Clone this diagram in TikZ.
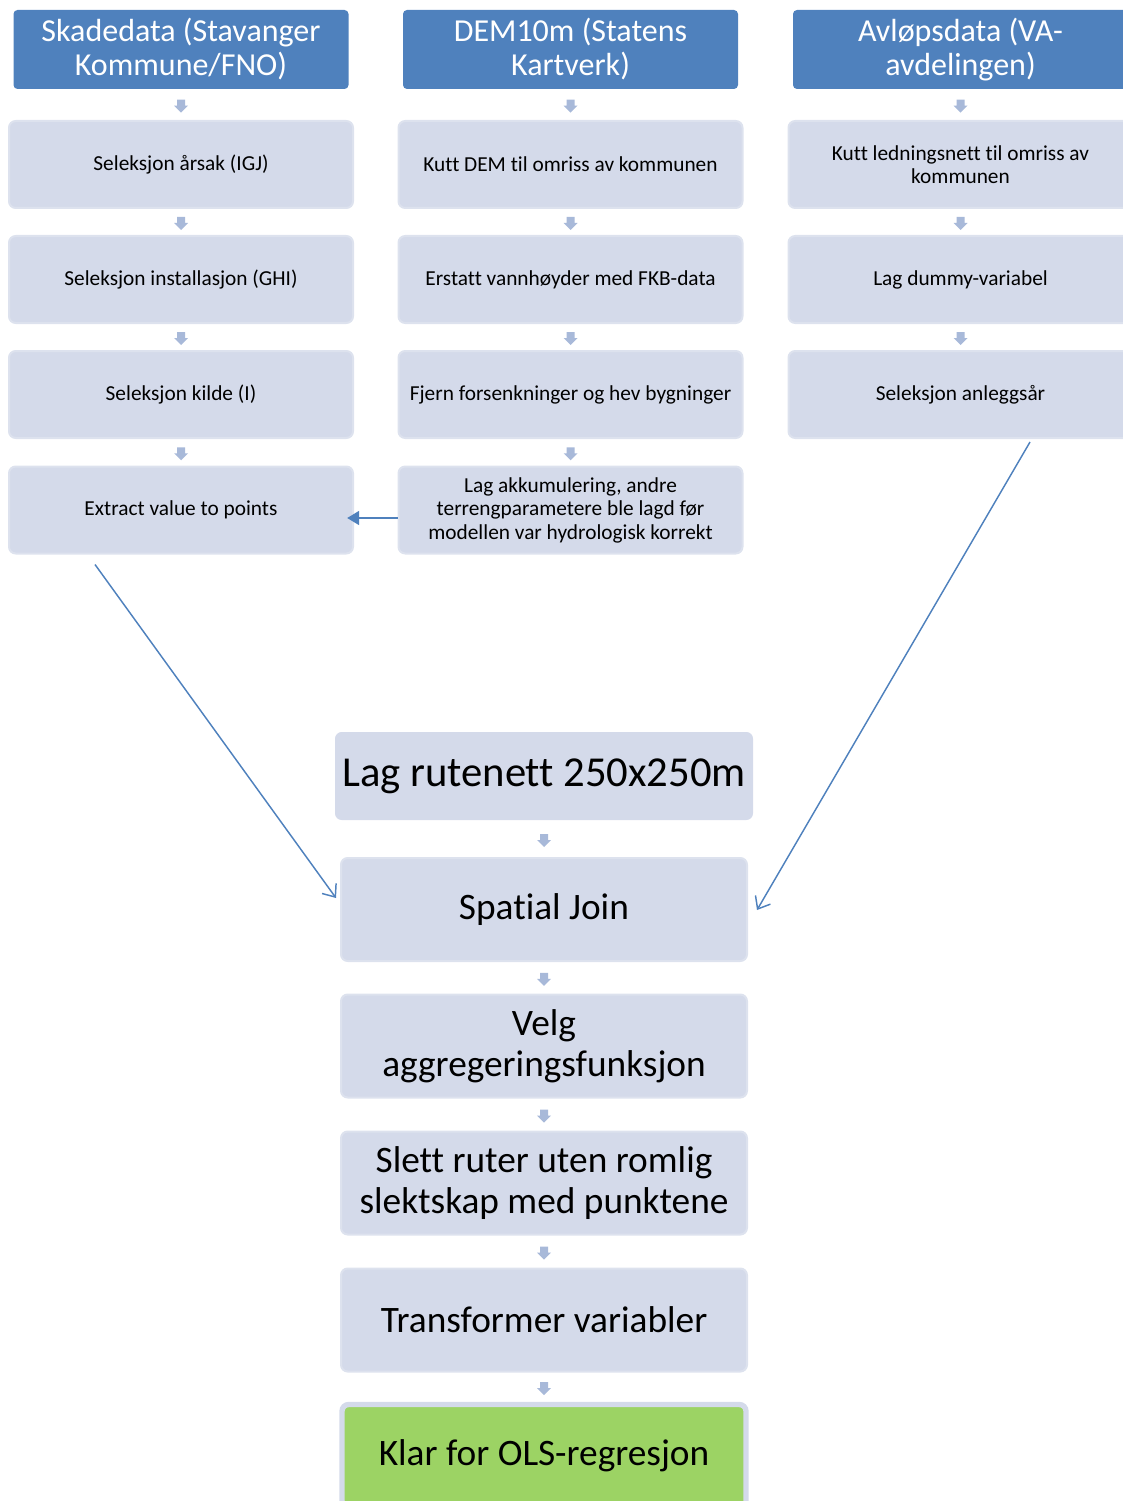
\documentclass[tikz,border=0pt]{standalone}
\usepackage{fontspec}
\setmainfont{Carlito}[Ligatures=NoCommon]
\usetikzlibrary{positioning,calc,arrows.meta}

\definecolor{hdrblue}{HTML}{4F81BD}
\definecolor{boxfill}{HTML}{D4DAEA}
\definecolor{boxline}{HTML}{DDE2EE}
\definecolor{smallarr}{HTML}{A8B9D9}
\definecolor{okgreen}{HTML}{9CD364}

\tikzset{
	hdr/.style={rectangle, rounded corners=3pt, fill=hdrblue, text=white, inner sep=0pt,
		minimum width=335*0.75pt, minimum height=79*0.75pt, align=center,
		font=\fontsize{24}{25.5}\selectfont},
	procbox/.style={rectangle, rounded corners=5pt, fill=boxfill, draw=boxline, line width=1.5pt,
		inner sep=0pt, minimum width=344*0.75pt, minimum height=87*0.75pt, align=center,
		font=\fontsize{16}{17.6}\selectfont},
	bigbox/.style={procbox, minimum width=406*0.75pt, minimum height=103*0.75pt,
		font=\fontsize{28}{30.75}\selectfont},
	downarr/.style={fill=smallarr, draw=none},
	longarr/.style={draw=hdrblue, line width=1.1pt, -{Straight Barb[length=8pt,width=13pt,line width=1.1pt]}},
}

\begin{document}
\begin{tikzpicture}[x=0.75pt,y=-0.75pt]
	\useasboundingbox (0,0) rectangle (1123,1501);
	%Definitions - positions in px, y grows downwards%
	%===========================================================
	\def \ColA {181} %left column
	\def \ColB {570.5} %middle column
	\def \ColC {960.5} %right column
	\def \ColD {544} %bottom column
	\def \RowH {49.5} %headers
	\def \RowA {164.5}
	\def \RowB {279.5}
	\def \RowC {394.5}
	\def \RowD {510}
	%=============================================================================================================
	%% Headers%
	%=============================================================================================================
	\node[hdr] (skade_h) at (\ColA,\RowH) {Skadedata (Stavanger\\Kommune/FNO)};
	\node[hdr] (dem_h) at (\ColB,\RowH) {DEM10m (Statens\\Kartverk)};
	\node[hdr] (va_h) at (\ColC,\RowH) {Avløpsdata (VA-\\avdelingen)};
	
	%% Skadedata column
	\node[procbox] (s1) at (\ColA,\RowA) {Seleksjon årsak (IGJ)};
	\node[procbox] (s2) at (\ColA,\RowB) {Seleksjon installasjon (GHI)};
	\node[procbox] (s3) at (\ColA,\RowC) {Seleksjon kilde (I)};
	\node[procbox] (s4) at (\ColA,\RowD) {Extract value to points};
	
	%% DEM column
	\node[procbox] (d1) at (\ColB,\RowA) {Kutt DEM til omriss av kommunen};
	\node[procbox] (d2) at (\ColB,\RowB) {Erstatt vannhøyder med FKB-data};
	\node[procbox] (d3) at (\ColB,\RowC) {Fjern forsenkninger og hev bygninger};
	\node[procbox] (d4) at (\ColB,\RowD) {Lag akkumulering, andre\\terrengparametere ble lagd før\\modellen var hydrologisk korrekt};
	
	%% Avlopsdata column
	\node[procbox] (v1) at (\ColC,\RowA) {Kutt ledningsnett til omriss av\\kommunen};
	\node[procbox] (v2) at (\ColC,\RowB) {Lag dummy-variabel};
	\node[procbox] (v3) at (\ColC,\RowC) {Seleksjon anleggsår};
	
	%=============================================================================================================
	%% Common chain%
	%=============================================================================================================
	\node[procbox, draw=none, minimum width=418*0.75pt, minimum height=88*0.75pt,
		font=\fontsize{32}{36}\selectfont] (rute) at (\ColD,776) {\raisebox{-3pt}{Lag rutenett 250x250m}};
	\node[bigbox] (join) at (\ColD,909.5) {Spatial Join};
	\node[bigbox] (velg) at (\ColD,1046) {Velg\\aggregeringsfunksjon};
	\node[bigbox] (slett) at (\ColD,1183) {Slett ruter uten romlig\\slektskap med punktene};
	\node[bigbox] (trans) at (\ColD,1320) {Transformer variabler};
	\node[bigbox, fill=okgreen, draw=boxfill, line width=4pt, minimum width=404*0.75pt] (klar) at (\ColD,1456) {Klar for OLS-regresjon};
	
	% small block arrows between the steps
	\foreach \a/\b in {skade_h/s1, s1/s2, s2/s3, s3/s4, dem_h/d1, d1/d2, d2/d3, d3/d4,
		va_h/v1, v1/v2, v2/v3, rute/join, join/velg, velg/slett, slett/trans, trans/klar}{
		\path ($(\a.south)!0.5!(\b.north)$) coordinate (m);
		\fill[downarr] (m) ++(-4,-5) -- ++(8,0) -- ++(0,6) -- ++(3,0) -- ++(-7,7) -- ++(-7,-7) -- ++(3,0) -- cycle;
	}
	
	% DEM result into extract
	\draw[hdrblue, line width=2.2pt, -{Triangle[length=9pt,width=10pt]}] ([yshift=-8*0.75pt]d4.west) -- ([shift={(-7,8)}]s4.east);
	
	% long arrows into Spatial Join
	\draw[longarr] ([shift={(87,10)}]s4.south west) -- ([shift={(-4,-11.5)}]join.west); %Skadedata
	\draw[longarr] ([shift={(69.5,3)}]v3.south) -- ([shift={(9,0.5)}]join.east); %Avlopsdata
\end{tikzpicture}
\end{document}
